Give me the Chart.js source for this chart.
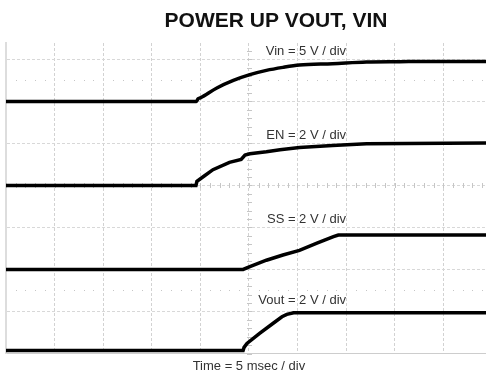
<!DOCTYPE html>
<html>
<head>
<meta charset="utf-8">
<script src="https://cdn.jsdelivr.net/npm/chart.js@4.4.1/dist/chart.umd.min.js"></script>
<style>
  html, body { margin: 0; padding: 0; background: #fff; overflow: hidden; }
  #wrap { width: 486px; height: 373px; }
</style>
</head>
<body>
<div id="wrap"><canvas id="scopeChart" width="486" height="373"></canvas></div>
<script>
// time base: 5 ms per division, right edge of the screen is cut off
const msPerDiv = 5;
const timeMin = 0;
const timeMax = 49.4;

// vertical graticule in divisions, 0 = centre line (top part hidden under the title)
const divMin = -4;
const divMax = 3.39;

// channel setup
const channelNames = ['Vin', 'EN', 'SS', 'Vout'];
const voltsPerDiv = [5, 2, 2, 2];
const groundDiv = [2, 0, -2, -3.93];

// captured traces (ms, V)
const vinTime  = [0, 19.6, 19.75, 20.0, 21.7, 23.4, 25.1, 26.8, 28.5, 30.2, 33.6, 37.1, 40.5, 43.9, 49.4];
const vinVolts = [0, 0, 0.3, 0.42, 1.6, 2.5, 3.18, 3.69, 4.05, 4.33, 4.49, 4.69, 4.73, 4.76, 4.76];

const enTime  = [0, 19.55, 19.65, 20.4, 21.3, 23.0, 24.2, 24.6, 25.1, 26.8, 28.2, 30.2, 33.6, 37.1, 49.4];
const enVolts = [0, 0, 0.2, 0.45, 0.75, 1.1, 1.24, 1.45, 1.51, 1.6, 1.7, 1.81, 1.9, 1.99, 2.02];

const ssTime  = [0, 24.4, 25.1, 26.8, 28.5, 30.2, 32.0, 33.7, 34.2, 49.4];
const ssVolts = [0, 0, 0.14, 0.44, 0.69, 0.91, 1.25, 1.56, 1.64, 1.64];

const voutTime  = [0, 24.4, 24.5, 24.8, 26.1, 27.5, 28.4, 28.9, 29.6, 49.4];
const voutVolts = [0, 0, 0.15, 0.34, 0.82, 1.3, 1.61, 1.72, 1.8, 1.8];

const traceTimes = [vinTime, enTime, ssTime, voutTime];
const traceVolts = [vinVolts, enVolts, ssVolts, voutVolts];

const FONT = '"Liberation Sans", Arial, sans-serif';

// one hidden y axis per channel so each trace is plotted in volts
const channelScales = {};
channelNames.forEach((name, i) => {
    channelScales['ch' + i] = {
        type: 'linear',
        display: false,
        min: (divMin - groundDiv[i]) * voltsPerDiv[i],
        max: (divMax - groundDiv[i]) * voltsPerDiv[i]
    };
});

const datasets = channelNames.map((name, i) => ({
    label: name,
    data: traceTimes[i].map((t, k) => ({ x: t, y: traceVolts[i][k] })),
    yAxisID: 'ch' + i,
    borderColor: '#000',
    borderWidth: 3.5,
    pointRadius: 0,
    cubicInterpolationMode: i === 0 ? 'monotone' : 'default',
    tension: 0
}));

// small tick marks on the centre lines and the dotted rows
const graticuleMarks = {
    id: 'graticuleMarks',
    beforeDatasetsDraw(chart) {
        const { ctx, scales: { x, y } } = chart;
        ctx.save();
        ctx.fillStyle = '#c6c6c6';
        const cx = Math.round(x.getPixelForValue(25));
        const cy = Math.round(y.getPixelForValue(0));
        for (let i = Math.ceil(divMin * 5); i <= divMax * 5; i++) {
            const py = Math.round(y.getPixelForValue(i / 5));
            ctx.fillRect(cx - 2, py, 5, 1);
        }
        for (let t = timeMin; t <= timeMax; t++) {
            const px = Math.round(x.getPixelForValue(t));
            ctx.fillRect(px, cy - 2, 1, 5);
            if (t % msPerDiv !== 0) {
                ctx.fillRect(px, Math.round(y.getPixelForValue(2.5)), 1, 1);
                ctx.fillRect(px, Math.round(y.getPixelForValue(-2.5)), 1, 1);
            }
        }
        ctx.restore();
    }
};

// title, channel captions and time base caption
const scopeText = {
    id: 'scopeText',
    afterDraw(chart) {
        const { ctx, scales: { x, y } } = chart;
        ctx.save();
        ctx.fillStyle = '#111';
        ctx.font = 'bold 21px ' + FONT;
        ctx.textAlign = 'center';
        ctx.textBaseline = 'alphabetic';
        ctx.fillText('POWER UP VOUT, VIN', 276, 27);

        ctx.fillStyle = '#333';
        ctx.font = '13px ' + FONT;
        ctx.textAlign = 'right';
        ctx.textBaseline = 'middle';
        channelNames.forEach((name, i) => {
            ctx.fillText(name + ' = ' + voltsPerDiv[i] + ' V / div',
                x.getPixelForValue(35), y.getPixelForValue(groundDiv[i] + 1.2));
        });

        ctx.textAlign = 'center';
        ctx.fillText('Time = ' + msPerDiv + ' msec / div', x.getPixelForValue(25), 366);
        ctx.restore();
    }
};

const ctx = document.getElementById('scopeChart').getContext('2d');
const scopeChart = new Chart(ctx, {
    type: 'line',
    data: { datasets: datasets },
    options: {
        responsive: false,
        animation: false,
        devicePixelRatio: 1,
        layout: { padding: { left: 6, top: 43, right: 0, bottom: 19.5 } },
        plugins: {
            legend: { display: false },
            tooltip: { enabled: false }
        },
        scales: {
            x: {
                type: 'linear',
                min: timeMin,
                max: timeMax,
                ticks: { display: false, stepSize: msPerDiv, includeBounds: false },
                grid: { color: '#d2d2d2', drawTicks: false },
                border: { display: true, color: '#cdcdcd', width: 1, dash: [3, 2] },
                afterFit: (scale) => { scale.height = 0; }
            },
            y: {
                type: 'linear',
                position: 'left',
                min: divMin,
                max: divMax,
                ticks: { display: false, stepSize: 1, includeBounds: false },
                grid: { color: '#d8d8d8', drawTicks: false },
                border: { display: true, color: '#dddddd', width: 2, dash: [3, 2] },
                afterFit: (scale) => { scale.width = 0; }
            },
            ...channelScales
        }
    },
    plugins: [graticuleMarks, scopeText]
});
</script>
</body>
</html>
